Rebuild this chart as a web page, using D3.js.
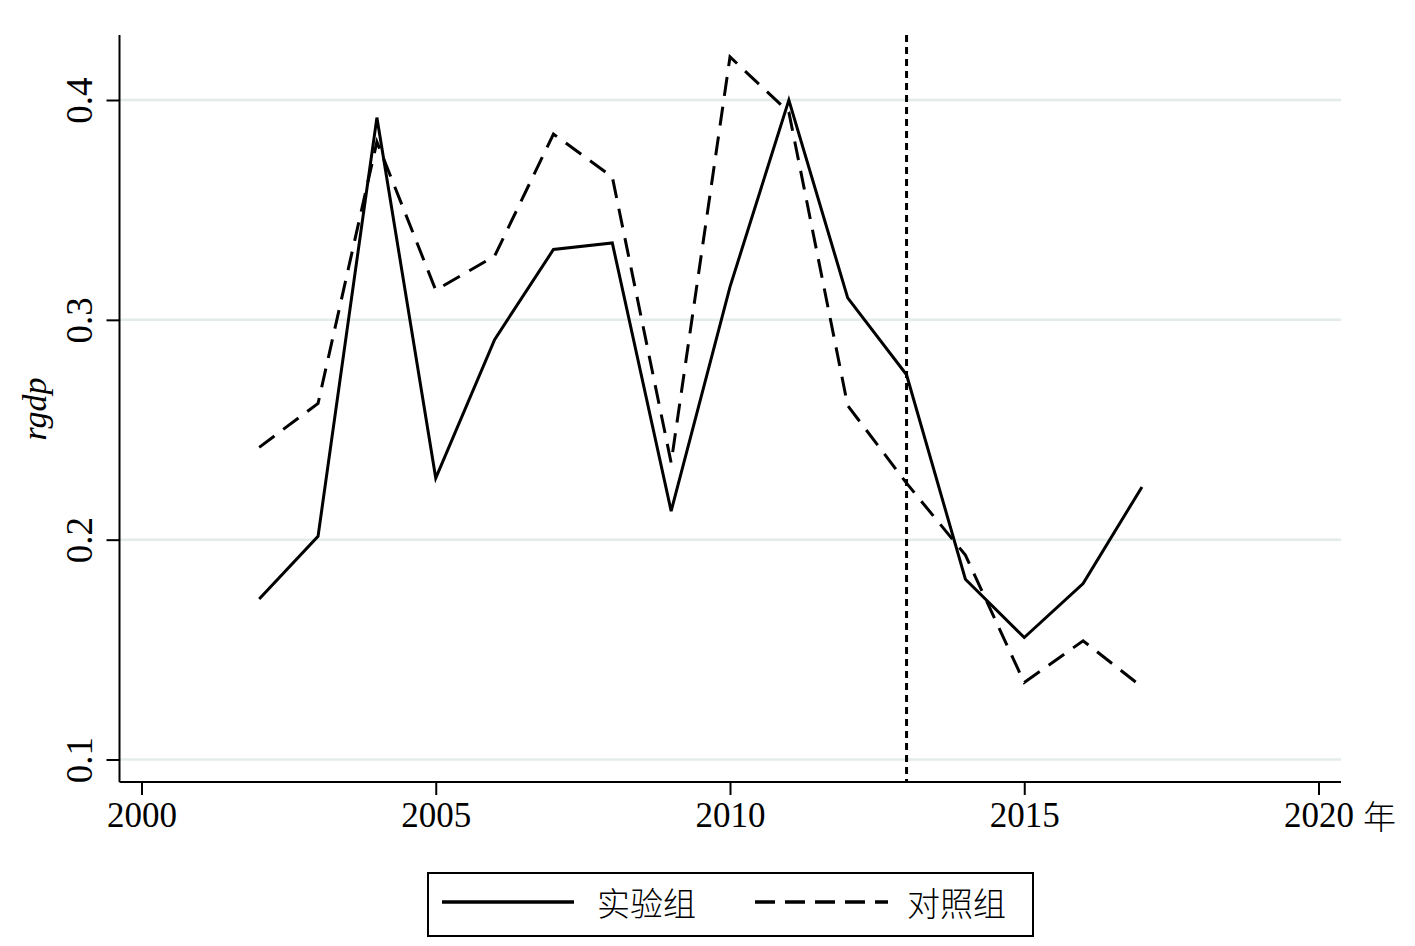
<!DOCTYPE html>
<html><head><meta charset="utf-8">
<script src="https://cdn.jsdelivr.net/npm/d3@7"></script>
<style>body{margin:0;background:#fff}svg{display:block}</style>
</head><body>
<svg id="c" width="1415" height="946"></svg>
<script>
const years = [2002,2003,2004,2005,2006,2007,2008,2009,2010,2011,2012,2013,2014,2015,2016,2017];
const treat = [0.173,0.2015,0.392,0.228,0.291,0.332,0.335,0.213,0.315,0.400,0.310,0.275,0.182,0.1555,0.180,0.224];
const control = [0.242,0.262,0.381,0.3135,0.329,0.3845,0.365,0.235,0.4196,0.3945,0.261,0.2257,0.193,0.135,0.154,0.133];
const xTicks = [2000,2005,2010,2015,2020];
const yTicks = [0.1,0.2,0.3,0.4];
const seriesNames = ["实验组","对照组"];
const policyYear = 2013;

(function(){
const svg = d3.select("#c");
const x = d3.scaleLinear().domain([2000,2020]).range([141.5,1318.5]);
const y = d3.scaleLinear().domain([0.1,0.4]).range([759.5,100]);
const pL = 119.5, pR = 1341, pT = 35, pB = 782;
const serif = "'Liberation Serif','Times New Roman',serif";

// grid
svg.append("g").selectAll("line").data(yTicks).join("line")
  .attr("x1", pL).attr("x2", pR)
  .attr("y1", d=>y(d)).attr("y2", d=>y(d))
  .attr("stroke", "#e3ebeb").attr("stroke-width", 2.5);

// y axis
const ya = svg.append("g").attr("transform", `translate(${pL},0)`)
  .call(d3.axisLeft(y).tickValues(yTicks).tickSize(13).tickSizeOuter(0).tickFormat(d3.format(".1f")));
ya.select(".domain").attr("d", `M0,${pT}V${pB}`).attr("stroke-width",2);
ya.selectAll(".tick line").attr("stroke-width",2);
ya.selectAll(".tick text").attr("font-family", serif).attr("font-size", 37)
  .attr("fill","#000")
  .attr("transform","translate(-29,0) rotate(-90)").attr("text-anchor","middle").attr("x",0).attr("y",0).attr("dy","0.05em");

// x axis
const xa = svg.append("g").attr("transform", `translate(0,${pB})`)
  .call(d3.axisBottom(x).tickValues(xTicks).tickSize(13).tickSizeOuter(0).tickFormat(d3.format("d")));
xa.select(".domain").attr("d", `M${pL},0H${pR}`).attr("stroke-width",2);
xa.selectAll(".tick line").attr("stroke-width",2);
xa.selectAll(".tick text").attr("font-family", serif).attr("font-size", 35).attr("fill","#000")
  .attr("y", 20).attr("dy","0.71em");

svg.append("text").attr("x", x(2020)+61).attr("y", 829).attr("font-family","'Noto Sans CJK SC',sans-serif")
  .attr("font-weight",300).attr("font-size",33).attr("text-anchor","middle").text("年");

// y label
svg.append("text").attr("transform","translate(46,409) rotate(-90)")
  .attr("font-family", serif).attr("font-style","italic").attr("font-size",34)
  .attr("text-anchor","middle").text("rgdp");

// vertical policy line
svg.append("line").attr("x1", x(policyYear)).attr("x2", x(policyYear))
  .attr("y1", pT).attr("y2", pB)
  .attr("stroke","#000").attr("stroke-width",3).attr("stroke-dasharray","7,5");

const line = d3.line().x((d,i)=>x(years[i])).y(d=>y(d));
svg.append("path").attr("d", line(treat)).attr("fill","none")
  .attr("stroke","#000").attr("stroke-width",3).attr("stroke-linejoin","miter");
svg.append("path").attr("d", line(control)).attr("fill","none")
  .attr("stroke","#000").attr("stroke-width",3).attr("stroke-dasharray","19,11");

// legend
const lg = svg.append("g");
lg.append("rect").attr("x",428).attr("y",873).attr("width",605).attr("height",63)
  .attr("fill","#fff").attr("stroke","#000").attr("stroke-width",2);
lg.append("line").attr("x1",442).attr("x2",574).attr("y1",902).attr("y2",902)
  .attr("stroke","#000").attr("stroke-width",3.5);
lg.append("line").attr("x1",755).attr("x2",888).attr("y1",902).attr("y2",902)
  .attr("stroke","#000").attr("stroke-width",3.5).attr("stroke-dasharray","20,10");
lg.selectAll("text.lab").data(seriesNames).join("text").attr("class","lab")
  .attr("x",(d,i)=> i===0 ? 597 : 907).attr("y",916)
  .attr("font-family","'Noto Sans CJK SC',sans-serif").attr("font-weight",300)
  .attr("font-size",33).text(d=>d);
})();
</script>
</body></html>
